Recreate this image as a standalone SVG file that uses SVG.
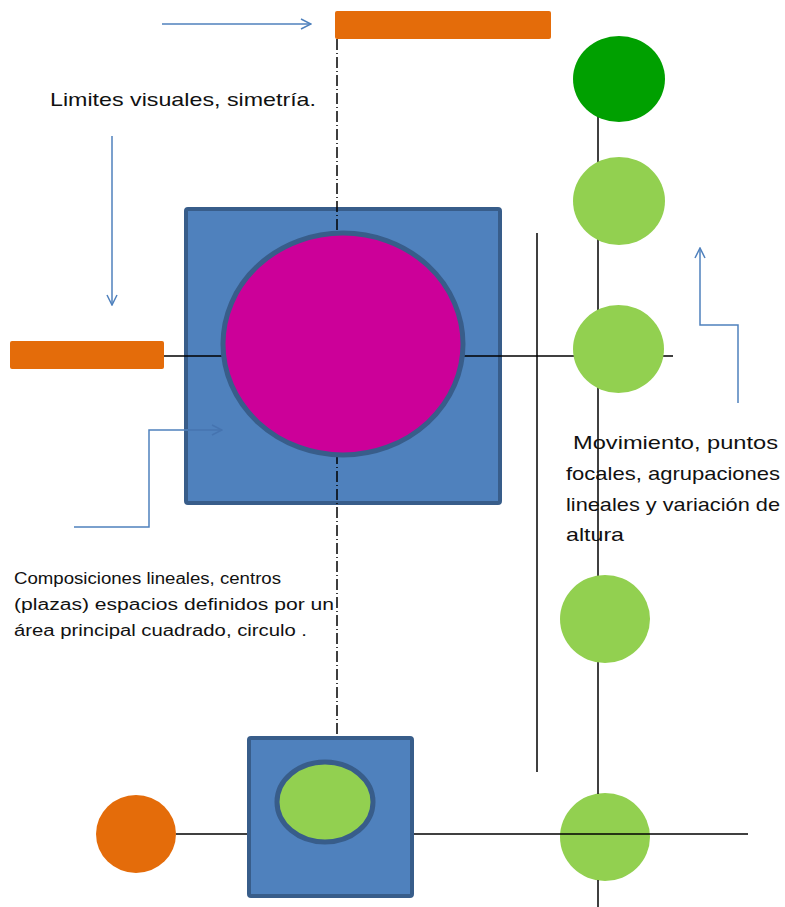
<svg xmlns="http://www.w3.org/2000/svg" width="785" height="907" viewBox="0 0 785 907">
<defs>
<style>
.bar{fill:#E46C0A;}
.sq{fill:#4F81BD;stroke:#385D8A;stroke-width:4;}
.ring{stroke:#385D8A;stroke-width:5;}
.lg{fill:#92D050;}
.dg{fill:#00A000;}
.ln{stroke:#000;stroke-width:1.5;fill:none;}
.dd{stroke:#000;stroke-width:1.5;fill:none;stroke-dasharray:11 3 1 3;}
.ar{stroke:#4F81BD;stroke-width:1.5;fill:none;}
.t{font-family:"Liberation Sans",Arial,sans-serif;fill:#111;}
</style>
<marker id="open" viewBox="0 0 12 12" refX="11" refY="6" markerWidth="12" markerHeight="12" markerUnits="userSpaceOnUse" orient="auto">
<path d="M1,1 L11,6 L1,11" fill="none" stroke="#4F81BD" stroke-width="1.5"/>
</marker>
<marker id="open2" viewBox="0 0 12 12" refX="11" refY="6" markerWidth="12" markerHeight="12" markerUnits="userSpaceOnUse" orient="auto">
<path d="M1,1 L11,6 L1,11" fill="none" stroke="#4674B0" stroke-width="1.5"/>
</marker>
</defs>
<rect width="785" height="907" fill="#fff"/>

<g id="node-main-square"><rect class="sq" x="186" y="209" width="314" height="294" rx="2"/></g>
<g id="node-green-5"><ellipse class="lg" cx="605" cy="837" rx="45" ry="44"/></g>

<g id="connectors">
<line class="dd" x1="337" y1="39" x2="337" y2="738"/>
<line class="ln" x1="164" y1="356" x2="673" y2="356"/>
<line class="ln" x1="598" y1="60" x2="598" y2="794"/>
<line class="ln" x1="598" y1="880" x2="598" y2="907"/>
<line class="ln" x1="537" y1="233" x2="537" y2="772"/>
<line class="ln" x1="176" y1="834" x2="748" y2="834"/>
<line class="ar" x1="162" y1="24" x2="311" y2="24" marker-end="url(#open)"/>
<line class="ar" x1="112" y1="136" x2="112" y2="305" marker-end="url(#open)"/>
<polyline class="ar" points="74,527 149,527 149,430 188,430"/>
<line x1="188" y1="430" x2="222" y2="430" stroke="#4674B0" stroke-width="1.5" marker-end="url(#open2)"/>
<polyline class="ar" points="738,403 738,325 700,325 700,248" marker-end="url(#open)"/>
</g>

<g id="node-bottom-square"><rect class="sq" x="249" y="738" width="163" height="158" rx="2"/></g>
<g id="node-magenta-circle"><ellipse class="ring" cx="343" cy="344" rx="120" ry="111" fill="#CC0099"/></g>
<g id="node-inner-green"><ellipse class="ring" cx="325" cy="802" rx="48" ry="40" fill="#92D050"/></g>
<g id="node-top-bar"><rect class="bar" x="335" y="11" width="216" height="28" rx="2"/></g>
<g id="node-left-bar"><rect class="bar" x="10" y="341" width="154" height="28" rx="2"/></g>
<g id="node-orange-circle"><ellipse class="bar" cx="136" cy="834" rx="40" ry="39"/></g>
<g id="node-dark-green"><ellipse class="dg" cx="619" cy="79" rx="46" ry="43"/></g>
<g id="node-green-2"><ellipse class="lg" cx="619" cy="201" rx="46" ry="44"/></g>
<g id="node-green-3"><ellipse class="lg" cx="618.5" cy="349" rx="45.5" ry="44"/></g>
<g id="node-green-4"><ellipse class="lg" cx="605" cy="619" rx="45" ry="44"/></g>

<g id="label-top">
<text class="t" x="50" y="106" font-size="19" textLength="266" lengthAdjust="spacingAndGlyphs">Limites visuales, simetría.</text>
</g>
<g id="label-left">
<text class="t" x="14" y="584" font-size="16" textLength="267" lengthAdjust="spacingAndGlyphs">Composiciones lineales, centros</text>
<text class="t" x="14" y="610" font-size="16" textLength="320" lengthAdjust="spacingAndGlyphs">(plazas) espacios definidos por un</text>
<text class="t" x="14" y="636" font-size="16" textLength="293" lengthAdjust="spacingAndGlyphs">área principal cuadrado, circulo .</text>
</g>
<g id="label-right">
<text class="t" x="573" y="449" font-size="19" textLength="205" lengthAdjust="spacingAndGlyphs">Movimiento, puntos</text>
<text class="t" x="566" y="480" font-size="19" textLength="214" lengthAdjust="spacingAndGlyphs">focales, agrupaciones</text>
<text class="t" x="566" y="511" font-size="19" textLength="214" lengthAdjust="spacingAndGlyphs">lineales y variación de</text>
<text class="t" x="566" y="541" font-size="19" textLength="58" lengthAdjust="spacingAndGlyphs">altura</text>
</g>
</svg>
